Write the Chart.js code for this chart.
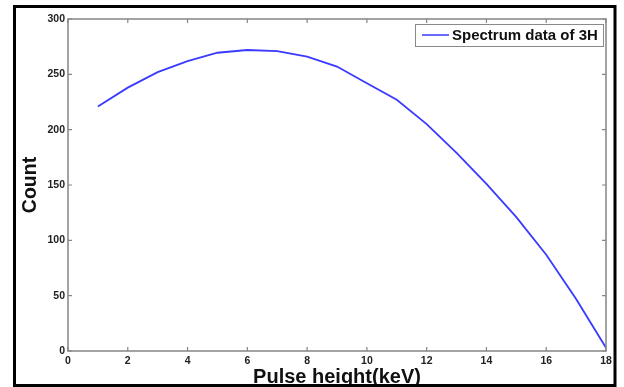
<!DOCTYPE html>
<html>
<head>
<meta charset="utf-8">
<script src="https://cdn.jsdelivr.net/npm/chart.js@4/dist/chart.umd.min.js"></script>
<style>
  html, body { margin: 0; padding: 0; background: #fff; }
  #wrap { position: relative; width: 624px; height: 387px; }
</style>
</head>
<body>
<div id="wrap"><canvas id="c" width="624" height="387"></canvas></div>
<script>
// Data
const pulseHeight = [1, 2, 3, 4, 5, 6, 7, 8, 9, 10, 11, 12, 13, 14, 15, 16, 17, 18];
const counts      = [221, 238, 252, 262, 269.5, 272, 271, 266, 257, 242, 227, 205, 179, 151, 121, 87, 47, 3];
const xTicks = [0, 2, 4, 6, 8, 10, 12, 14, 16, 18];
const yTicks = [0, 50, 100, 150, 200, 250, 300];
const seriesLabel = 'Spectrum data of 3H';
const xTitle = 'Pulse height(keV)';
const yTitle = 'Count';

const FONT = "'Liberation Sans', Arial, Helvetica, sans-serif";

const framePlugin = {
  id: 'frame',
  afterDraw(chart) {
    const ctx = chart.ctx;
    const a = chart.chartArea;
    const xs = chart.scales.x, ys = chart.scales.y;
    ctx.save();
    // axes box
    ctx.strokeStyle = '#858585';
    ctx.lineWidth = 1.5;
    ctx.strokeRect(a.left, a.top, a.right - a.left, a.bottom - a.top);
    // inward ticks on all four sides
    ctx.lineWidth = 1.2;
    ctx.beginPath();
    xTicks.forEach(v => {
      const px = xs.getPixelForValue(v);
      ctx.moveTo(px, a.bottom); ctx.lineTo(px, a.bottom - 4);
      ctx.moveTo(px, a.top); ctx.lineTo(px, a.top + 4);
    });
    yTicks.forEach(v => {
      const py = ys.getPixelForValue(v);
      ctx.moveTo(a.left, py); ctx.lineTo(a.left + 4, py);
      ctx.moveTo(a.right, py); ctx.lineTo(a.right - 4, py);
    });
    ctx.stroke();

    // legend box
    const ds = chart.data.datasets[0];
    const bx = 415, by = 24, bw = 188, bh = 22;
    ctx.fillStyle = '#fff';
    ctx.fillRect(bx, by, bw, bh);
    ctx.strokeStyle = '#8a8a8a';
    ctx.lineWidth = 1;
    ctx.strokeRect(bx + 0.5, by + 0.5, bw, bh);
    ctx.strokeStyle = ds.borderColor;
    ctx.lineWidth = 1.5;
    ctx.beginPath();
    ctx.moveTo(bx + 7, by + 11);
    ctx.lineTo(bx + 34, by + 11);
    ctx.stroke();
    ctx.fillStyle = '#111';
    ctx.font = "bold 15px " + FONT;
    ctx.textBaseline = 'middle';
    ctx.textAlign = 'left';
    ctx.fillText(ds.label, bx + 37, by + 11.5);

    // outer black figure border
    ctx.strokeStyle = '#000';
    ctx.lineWidth = 3;
    ctx.strokeRect(14.5, 6.5, 600.5, 379);
    ctx.restore();
  }
};

new Chart(document.getElementById('c'), {
  type: 'line',
  data: {
    datasets: [{
      label: seriesLabel,
      data: pulseHeight.map((x, i) => ({ x: x, y: counts[i] })),
      borderColor: '#3a3aff',
      borderWidth: 1.8,
      pointRadius: 0,
      tension: 0,
      fill: false
    }]
  },
  options: {
    responsive: false,
    animation: false,
    devicePixelRatio: 1,
    layout: { padding: { top: 19, right: 18, left: 0, bottom: 0 } },
    plugins: {
      legend: { display: false },
      tooltip: { enabled: false }
    },
    scales: {
      x: {
        type: 'linear',
        min: 0, max: 18,
        afterBuildTicks: s => { s.ticks = xTicks.map(v => ({ value: v })); },
        afterFit: s => { s.height = 36; },
        grid: { display: false, drawTicks: false },
        border: { display: false },
        ticks: {
          padding: 4,
          color: '#222',
          font: { family: FONT, size: 10.5, weight: 'bold' },
          maxRotation: 0
        },
        title: {
          display: true,
          text: xTitle,
          color: '#111',
          padding: { top: 0, bottom: 0 },
          font: { family: FONT, size: 20, weight: 'bold', lineHeight: 1 }
        }
      },
      y: {
        type: 'linear',
        min: 0, max: 300,
        afterBuildTicks: s => { s.ticks = yTicks.map(v => ({ value: v })); },
        afterFit: s => { s.width = 68; },
        grid: { display: false, drawTicks: false },
        border: { display: false },
        ticks: {
          padding: 3,
          color: '#222',
          font: { family: FONT, size: 10.5, weight: 'bold' }
        },
        title: {
          display: true,
          text: yTitle,
          color: '#111',
          padding: { top: 20.5, bottom: 0 },
          font: { family: FONT, size: 19.5, weight: 'bold', lineHeight: 1 }
        }
      }
    }
  },
  plugins: [framePlugin]
});
</script>
</body>
</html>
